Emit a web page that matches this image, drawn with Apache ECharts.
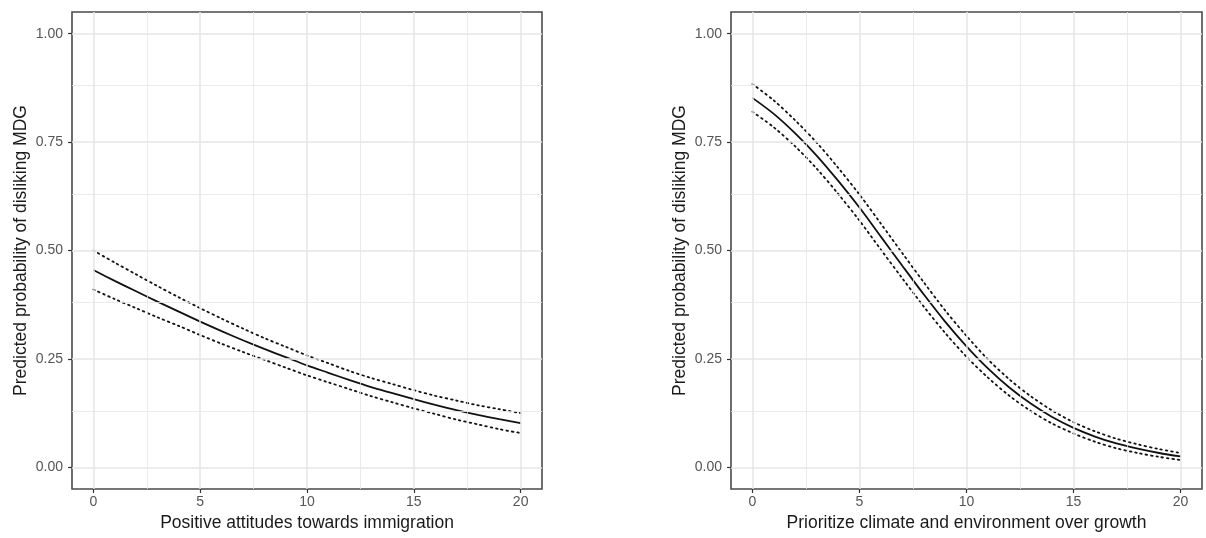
<!DOCTYPE html>
<html>
<head>
<meta charset="utf-8">
<script src="https://cdn.jsdelivr.net/npm/echarts@6/dist/echarts.min.js"></script>
<style>
  html, body { margin: 0; padding: 0; background: #fff; }
  #chart { width: 1206px; height: 538px; }
</style>
</head>
<body>
<div id="chart"></div>
<script>
// x positions of the predicted values (both panels)
const xValues = [0, 1, 2, 3, 4, 5, 6, 7, 8, 9, 10, 11, 12, 13, 14, 15, 16, 17, 18, 19, 20];

// left panel: positive attitudes towards immigration
const immigFit = [0.455, 0.430, 0.406, 0.382, 0.359, 0.336, 0.314, 0.293, 0.273, 0.254, 0.235,
    0.218, 0.201, 0.185, 0.171, 0.157, 0.144, 0.132, 0.121, 0.111, 0.102];
const immigUpper = [0.500, 0.472, 0.445, 0.418, 0.392, 0.367, 0.343, 0.320, 0.298, 0.278, 0.258,
    0.240, 0.222, 0.206, 0.192, 0.178, 0.165, 0.154, 0.143, 0.134, 0.125];
const immigLower = [0.410, 0.388, 0.367, 0.346, 0.326, 0.305, 0.285, 0.266, 0.248, 0.230, 0.212,
    0.196, 0.180, 0.164, 0.150, 0.136, 0.123, 0.110, 0.099, 0.088, 0.079];

// right panel: prioritize climate and environment over growth
const climateFit = [0.852, 0.815, 0.770, 0.719, 0.661, 0.599, 0.532, 0.465, 0.399, 0.336, 0.279,
    0.228, 0.184, 0.147, 0.116, 0.091, 0.071, 0.055, 0.043, 0.033, 0.025];
const climateUpper = [0.884, 0.846, 0.800, 0.749, 0.691, 0.629, 0.562, 0.494, 0.427, 0.362, 0.303,
    0.249, 0.203, 0.164, 0.131, 0.104, 0.083, 0.066, 0.053, 0.042, 0.033];
const climateLower = [0.820, 0.784, 0.740, 0.689, 0.631, 0.569, 0.502, 0.436, 0.371, 0.310, 0.255,
    0.207, 0.165, 0.130, 0.101, 0.078, 0.059, 0.044, 0.033, 0.024, 0.017];

// axis breaks
const xTicks = [0, 5, 10, 15, 20];
const xMinor = [2.5, 7.5, 12.5, 17.5];
const yTicks = [0, 0.25, 0.5, 0.75, 1];
const yMinor = [0.125, 0.375, 0.625, 0.875];

const xTitles = ['Positive attitudes towards immigration', 'Prioritize climate and environment over growth'];
const yTitle = 'Predicted probability of disliking MDG';

const FONT = '"Liberation Sans", Arial, sans-serif';
const GRID_COLOR = '#e6e6e6';

function pairs(ys) {
    return xValues.map((x, i) => [x, ys[i]]);
}

function xAxisFor(idx) {
    return {
        type: 'value',
        gridIndex: idx,
        min: -1,
        max: 21,
        name: xTitles[idx],
        nameLocation: 'middle',
        nameGap: 25,
        nameTextStyle: { fontFamily: FONT, fontSize: 17.5, color: '#1a1a1a' },
        axisLine: { show: false, onZero: false },
        axisTick: { show: true, customValues: xTicks, length: 4, lineStyle: { color: '#333', width: 1.2 } },
        axisLabel: {
            customValues: xTicks,
            margin: 6,
            fontFamily: FONT,
            fontSize: 14,
            color: '#555'
        },
        splitLine: { show: false }
    };
}

function yAxisFor(idx) {
    return {
        type: 'value',
        gridIndex: idx,
        min: -0.05,
        max: 1.05,
        name: yTitle,
        nameLocation: 'middle',
        nameGap: 42,
        nameTextStyle: { fontFamily: FONT, fontSize: 17.5, color: '#1a1a1a' },
        axisLine: { show: false, onZero: false },
        axisTick: { show: true, customValues: yTicks, length: 4, lineStyle: { color: '#333', width: 1.2 } },
        axisLabel: {
            customValues: yTicks,
            margin: 9,
            fontFamily: FONT,
            fontSize: 14,
            color: '#555',
            formatter: v => v.toFixed(2)
        },
        splitLine: { show: false }
    };
}

// background grid lines, placed through the axes' own scales
function gridSeries(idx) {
    const lines = [];
    xMinor.forEach(v => lines.push({ xAxis: v, lineStyle: { width: 0.8 } }));
    yMinor.forEach(v => lines.push({ yAxis: v, lineStyle: { width: 0.8 } }));
    xTicks.forEach(v => lines.push({ xAxis: v, lineStyle: { width: 1.5 } }));
    yTicks.forEach(v => lines.push({ yAxis: v, lineStyle: { width: 1.5 } }));
    return {
        type: 'line',
        xAxisIndex: idx,
        yAxisIndex: idx,
        data: [],
        z: 1,
        silent: true,
        markLine: {
            silent: true,
            symbol: ['none', 'none'],
            label: { show: false },
            lineStyle: { color: GRID_COLOR, type: 'solid' },
            emphasis: { disabled: true },
            data: lines
        }
    };
}

function curve(idx, ys, dotted) {
    return {
        type: 'line',
        xAxisIndex: idx,
        yAxisIndex: idx,
        data: pairs(ys),
        showSymbol: false,
        symbol: 'none',
        smooth: 0.3,
        z: 3,
        lineStyle: dotted
            ? { color: '#111', width: 1.8, type: [1.6, 3.8], cap: 'round' }
            : { color: '#111', width: 1.8 }
    };
}

const chart = echarts.init(document.getElementById('chart'), null, { renderer: 'canvas' });

chart.setOption({
    animation: false,
    backgroundColor: '#fff',
    grid: [
        { left: 72, top: 12, width: 470, height: 477, show: true, borderColor: '#4a4a4a', borderWidth: 1.6, backgroundColor: '#fff' },
        { left: 731, top: 12, width: 471, height: 477, show: true, borderColor: '#4a4a4a', borderWidth: 1.6, backgroundColor: '#fff' }
    ],
    xAxis: [xAxisFor(0), xAxisFor(1)],
    yAxis: [yAxisFor(0), yAxisFor(1)],
    series: [
        gridSeries(0),
        gridSeries(1),
        curve(0, immigUpper, true),
        curve(0, immigLower, true),
        curve(0, immigFit, false),
        curve(1, climateUpper, true),
        curve(1, climateLower, true),
        curve(1, climateFit, false)
    ]
});
</script>
</body>
</html>
